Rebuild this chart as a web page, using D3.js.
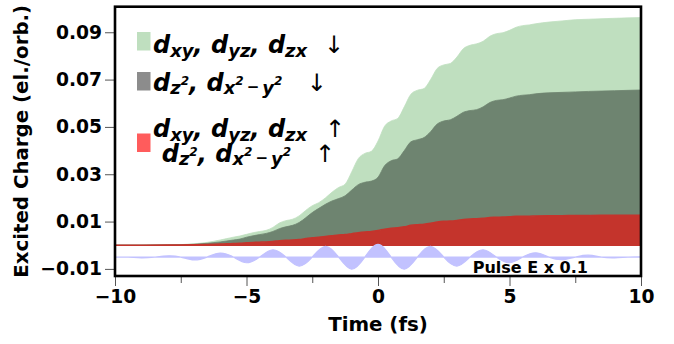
<!DOCTYPE html>
<html lang="en">
<head>
<meta charset="UTF-8">
<title>excited charge</title>
<script src="https://d3js.org/d3.v7.min.js"></script>
<style>
  body { margin: 0; background: #fff; }
  text { font-family: "DejaVu Sans", sans-serif; }
</style>
</head>
<body>
<svg></svg>
<script>
// time axis (fs) for the charge curves
const time = [-10, -9, -8, -7, -6.5,
  -6, -5.75, -5.5, -5.25, -5, -4.75, -4.5, -4.25, -4, -3.75, -3.5, -3.25,
  -3, -2.75, -2.5, -2.25, -2, -1.75, -1.5, -1.25, -1, -0.75, -0.5, -0.25,
  0, 0.25, 0.5, 0.75, 1, 1.25, 1.5, 1.75, 2, 2.25, 2.5, 2.75,
  3, 3.25, 3.5, 3.75, 4, 4.25, 4.5, 4.75, 5, 5.25, 5.5, 5.75, 6,
  6.5, 7, 7.5, 8, 9, 10];

// stacked tops (el./orb.)
// red: all spin-up d orbitals
const upAll = [0, 0, 0.0001, 0.0002, 0.0003,
  0.0005, 0.0006, 0.0007, 0.0008, 0.0010, 0.0012, 0.0013, 0.0014, 0.0016, 0.0019, 0.0021, 0.0022,
  0.0024, 0.0028, 0.0032, 0.0034, 0.0037, 0.0040, 0.0043, 0.0045, 0.0049, 0.0053, 0.0056, 0.0058,
  0.0062, 0.0068, 0.0072, 0.0074, 0.0078, 0.0084, 0.0087, 0.0089, 0.0093, 0.0098, 0.0101, 0.0102,
  0.0105, 0.0109, 0.0111, 0.0112, 0.0114, 0.0117, 0.0118, 0.0119, 0.0120, 0.0122, 0.0123, 0.0123, 0.0124,
  0.0125, 0.0125, 0.0126, 0.0126, 0.0127, 0.0127];
// dark: + dz2, dx2-y2 spin-down
const egDown = [0, 0, 0.0001, 0.0004, 0.0008,
  0.0014, 0.0018, 0.0022, 0.0026, 0.0034, 0.0040, 0.0045, 0.0050, 0.0058, 0.0070, 0.0078, 0.0084,
  0.0096, 0.0116, 0.0138, 0.0156, 0.0173, 0.0187, 0.0197, 0.0209, 0.0233, 0.0256, 0.0266, 0.0271,
  0.0287, 0.0336, 0.0357, 0.0365, 0.0400, 0.0437, 0.0446, 0.0455, 0.0480, 0.0512, 0.0525, 0.0530,
  0.0545, 0.0562, 0.0569, 0.0573, 0.0585, 0.0603, 0.0612, 0.0615, 0.0622, 0.0630, 0.0634, 0.0636, 0.0640,
  0.0644, 0.0646, 0.0648, 0.0650, 0.0653, 0.0656];
// light: + dxy, dyz, dzx spin-down
const t2gDown = [0, 0, 0.0001, 0.0006, 0.0012,
  0.0022, 0.0028, 0.0034, 0.0039, 0.0046, 0.0053, 0.0058, 0.0063, 0.0075, 0.0094, 0.0104, 0.0110,
  0.0124, 0.0147, 0.0167, 0.0180, 0.0200, 0.0224, 0.0244, 0.0258, 0.0310, 0.0366, 0.0388, 0.0397,
  0.0440, 0.0503, 0.0525, 0.0536, 0.0585, 0.0638, 0.0655, 0.0662, 0.0700, 0.0747, 0.0762, 0.0768,
  0.0795, 0.0831, 0.0845, 0.0851, 0.0862, 0.0883, 0.0894, 0.0898, 0.0908, 0.0921, 0.0928, 0.0931, 0.0936,
  0.0943, 0.0948, 0.0953, 0.0955, 0.0959, 0.0962];

// laser pulse, E x 0.1, drawn around an offset
const pulseTime = [-10, -9.5, -9, -8.5, -8, -7.5, -7, -6.5, -6, -5.5, -5, -4.5, -4, -3.5, -3, -2.5,
  -2, -1.5, -1, -0.5, 0, 0.5, 1, 1.5, 2, 2.5, 3, 3.5, 4, 4.5, 5, 5.5, 6, 6.5, 7, 7.5, 8, 8.5, 9, 9.5, 10];
const pulseE = [0, 0, -0.0003, 0, 0.0005, 0, -0.0012, 0, 0.0017, 0, -0.0024, 0, 0.0031, 0, -0.0038, 0,
  0.0045, 0, -0.0051, 0, 0.0054, 0, -0.0051, 0, 0.0045, 0, -0.0038, 0, 0.0031, 0, -0.0024, 0,
  0.0018, 0, -0.0011, 0, 0.0008, 0, -0.0003, 0, 0.0001];
const pulseOffset = -0.005;

const xTicks = [-10, -5, 0, 5, 10];
const xMinor = [-7.5, -2.5, 2.5, 7.5];
const yTicks = [-0.01, 0.01, 0.03, 0.05, 0.07, 0.09];

const svgWidth = 674, svgHeight = 344;
const margin = {top: 6.7, right: 33, bottom: 68, left: 115};
const width = svgWidth - margin.left - margin.right;
const height = svgHeight - margin.top - margin.bottom;

const svg = d3.select('svg')
  .attr('width', svgWidth)
  .attr('height', svgHeight);

const g = svg.append('g')
  .attr('transform', `translate(${margin.left},${margin.top})`);

const x = d3.scaleLinear().domain([-10, 10]).range([0, width]);
const y = d3.scaleLinear().domain([-0.013, 0.1008]).range([height, 0]);

const layers = [
  {lo: upAll, hi: t2gDown, fill: '#bfdfbf'},
  {lo: upAll, hi: egDown, fill: '#6e8470'},
  {lo: null, hi: upAll, fill: '#c4342c'}
];

layers.forEach(l => {
  const area = d3.area()
    .x((d, i) => x(time[i]))
    .y0((d, i) => y(l.lo ? l.lo[i] : 0))
    .y1(d => y(d))
    .curve(d3.curveMonotoneX);
  g.append('path')
    .datum(l.hi)
    .attr('d', area)
    .attr('fill', l.fill)
    .attr('stroke', l.fill)
    .attr('stroke-width', l.lo ? 0.8 : 1.5);
});

const pulseArea = d3.area()
  .x((d, i) => x(pulseTime[i]))
  .y0(y(pulseOffset))
  .y1(d => y(pulseOffset + d))
  .curve(d3.curveNatural);
g.append('path')
  .datum(pulseE)
  .attr('d', pulseArea)
  .attr('fill', '#c2c2ff')
  .attr('stroke', '#c2c2ff')
  .attr('stroke-width', 1.2);

// axes
const yAxis = g.append('g')
  .call(d3.axisLeft(y).tickValues(yTicks).tickSize(10).tickPadding(3).tickFormat(d3.format('.2f')));
const xAxis = g.append('g')
  .attr('transform', `translate(0,${height})`)
  .call(d3.axisBottom(x).tickValues(xTicks).tickSize(10).tickPadding(4).tickFormat(d3.format('d')));
const xAxisMinor = g.append('g')
  .attr('transform', `translate(0,${height})`)
  .call(d3.axisBottom(x).tickValues(xMinor).tickSize(7).tickFormat(''));

[yAxis, xAxis, xAxisMinor].forEach(a => {
  a.select('.domain').remove();
  a.selectAll('line').attr('stroke', '#555').attr('stroke-width', 1);
  a.selectAll('text')
    .attr('fill', '#000')
    .style('font-size', '18.7px')
    .style('font-weight', 'bold');
});

g.append('rect')
  .attr('width', width)
  .attr('height', height)
  .attr('fill', 'none')
  .attr('stroke', '#000')
  .attr('stroke-width', 2.6);

svg.append('text')
  .attr('transform', `translate(27.5,${margin.top + height / 2}) rotate(-90)`)
  .attr('text-anchor', 'middle')
  .style('font-size', '19.8px')
  .style('font-weight', 'bold')
  .text('Excited Charge (el./orb.)');

svg.append('text')
  .attr('x', margin.left + width / 2)
  .attr('y', 331)
  .attr('text-anchor', 'middle')
  .style('font-size', '19.8px')
  .style('font-weight', 'bold')
  .text('Time (fs)');

g.append('text')
  .attr('x', x(3.6))
  .attr('y', 266)
  .style('font-size', '16px')
  .style('font-weight', 'bold')
  .text('Pulse E x 0.1');

// legend
function mathLine(px, py, parts) {
  const t = svg.append('text')
    .attr('x', px).attr('y', py)
    .style('font-weight', 'bold')
    .style('font-style', 'italic');
  let prev = 0;
  parts.forEach(([s, size, shift, dx]) => {
    t.append('tspan')
      .attr('dy', shift - prev)
      .attr('dx', dx || 0)
      .style('font-size', size + 'px')
      .text(s);
    prev = shift;
  });
}
const D = 24, S = 18, P = 12;
const t2gParts = [['d', D, 0], ['xy', S, 4], [', ', D, 0], ['d', D, 0], ['yz', S, 4],
  [', ', D, 0], ['d', D, 0], ['zx', S, 4]];
const egParts = [['d', D, 0], ['z', S, 3], ['2', P, -6], [', ', D, 0], ['d', D, 0], ['x', S, 3],
  ['2', P, -6], ['\u2212', 15, 1, 3], ['y', S, 3, 3], ['2', P, -6]];

const legendRows = [
  {sw: '#bfdfbf', swY: 32, lines: [[153, 53, t2gParts, '\u2193', 334]]},
  {sw: '#8c8c8c', swY: 72, lines: [[153, 90.7, egParts, '\u2193', 316.7]]},
  {sw: '#ff5c5c', swY: 133.5, lines: [[153, 136.7, t2gParts, '\u2191', 335], [161.7, 161.7, egParts, '\u2191', 325]]}
];
legendRows.forEach(r => {
  svg.append('rect')
    .attr('x', 137).attr('y', r.swY)
    .attr('width', 13.5).attr('height', 18.5)
    .attr('fill', r.sw);
  r.lines.forEach(([lx, ly, parts, arrow, ax]) => {
    mathLine(lx, ly, parts);
    svg.append('text')
      .attr('x', ax).attr('y', ly)
      .attr('text-anchor', 'middle')
      .style('font-size', '24px')
      .text(arrow);
  });
});
</script>
</body>
</html>
